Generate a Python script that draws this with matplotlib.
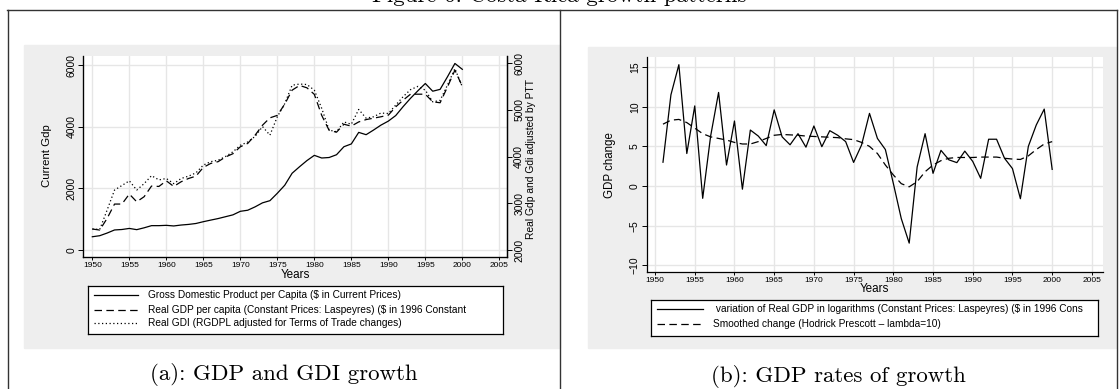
import numpy as np
import matplotlib
matplotlib.use("Agg")
import matplotlib.pyplot as plt
from matplotlib.patches import Rectangle
from matplotlib.lines import Line2D

plt.rcParams['font.family'] = ['Liberation Sans', 'DejaVu Sans']

# panel (a): levels, 1950-2000
years_a = list(range(1950, 2001))
current_gdp = [430, 464, 550, 650, 665, 700, 660, 720, 790, 790,
               800, 780, 810, 830, 860, 918, 970, 1020, 1080, 1140,
               1255, 1290, 1400, 1530, 1600, 1840, 2100, 2490, 2700, 2900,
               3070, 2984, 3000, 3090, 3350, 3440, 3815, 3740, 3890, 4050,
               4180, 4360, 4650, 4920, 5165, 5400, 5150, 5210, 5620, 6050,
               5860]
real_gdp = [2449, 2427, 2677, 2983, 2983, 3197, 3032, 3140, 3368, 3360,
            3480, 3360, 3460, 3530, 3580, 3767, 3852, 3890, 3990, 4060,
            4208, 4280, 4457, 4670, 4827, 4880, 5120, 5419, 5520, 5470,
            5330, 4880, 4560, 4520, 4690, 4650, 4740, 4790, 4820, 4850,
            4885, 5062, 5205, 5333, 5333, 5333, 5170, 5150, 5490, 5846,
            5500]
real_gdi = [2450, 2440, 2855, 3282, 3380, 3480, 3282, 3420, 3590, 3500,
            3530, 3420, 3530, 3580, 3650, 3816, 3890, 3920, 4000, 4100,
            4240, 4310, 4430, 4640, 4457, 4850, 5130, 5525, 5550, 5540,
            5420, 5030, 4565, 4530, 4740, 4690, 5007, 4820, 4850, 4930,
            4920, 5100, 5280, 5430, 5500, 5420, 5170, 5200, 5530, 5880,
            5490]

# panel (b): growth rates, 1951-2000
years_b = list(range(1951, 2001))
gdp_change = [3.0, 11.5, 15.3, 4.1, 10.1, -1.55, 6.3, 11.8, 2.65, 8.2,
              -0.4, 7.06, 6.3, 5.1, 9.6, 6.2, 5.2, 6.6, 4.9, 7.57,
              4.96, 6.98, 6.4, 5.6, 2.98, 5.17, 9.16, 6.0, 4.6, 0.34,
              -4.1, -7.2, 2.4, 6.6, 1.6, 4.5, 3.3, 2.95, 4.4, 3.1,
              0.97, 5.9, 5.9, 3.5, 2.2, -1.6, 5.0, 7.7, 9.7, 2.1]
hp_smooth = [7.8, 8.3, 8.4, 8.0, 7.3, 6.6, 6.2, 6.0, 5.8, 5.5,
             5.3, 5.3, 5.6, 6.0, 6.4, 6.5, 6.45, 6.4, 6.3, 6.25,
             6.2, 6.15, 6.1, 5.95, 5.85, 5.5, 5.0, 4.1, 2.65, 1.4,
             0.3, -0.1, 0.55, 1.8, 2.65, 3.2, 3.5, 3.6, 3.6, 3.6,
             3.65, 3.65, 3.65, 3.5, 3.4, 3.35, 3.8, 4.6, 5.3, 5.6]

xticks = list(range(1950, 2006, 5))
legend_a = ["Gross Domestic Product per Capita (\\$ in Current Prices)",
            "Real GDP per capita (Constant Prices: Laspeyres) (\\$ in 1996 Constant",
            "Real GDI (RGDPL adjusted for Terms of Trade changes)"]
legend_b = [" variation of Real GDP in logarithms (Constant Prices: Laspeyres) (\\$ in 1996 Cons",
            "Smoothed change (Hodrick Prescott \u2013 lambda=10)"]

W, H = 1119, 389
BG = '#eeeeee'
GRID = '#e6e6e6'
DASH = (0, (6, 3.5))
DOT = (0, (1, 2))


def box(x0, y0, x1, y1):
    # pixel box -> figure coords
    return [x0 / W, 1 - y1 / H, (x1 - x0) / W, (y1 - y0) / H]


def fx(x):
    return x / W


def fy(y):
    return 1 - y / H


fig = plt.figure(figsize=(W / 100, H / 100), dpi=100)

# gray graph regions (behind the axes)
fig.patches.append(Rectangle((fx(24), fy(348)), (560 - 24) / W, (348 - 45) / H,
                             transform=fig.transFigure, color=BG, zorder=-5))
fig.patches.append(Rectangle((fx(587.5), fy(348)), (1116 - 587.5) / W, (348 - 47) / H,
                             transform=fig.transFigure, color=BG, zorder=-5))

# panel frame lines
for xs, ys in [([7, 1117], [9.5, 9.5]), ([7.5, 7.5], [9.5, 389]),
               ([560, 560], [9.5, 389]), ([1116.5, 1116.5], [9.5, 389])]:
    fig.add_artist(Line2D([fx(x) for x in xs], [fy(y) for y in ys],
                          color='#333333', lw=1.0, zorder=-4))


def style_axis(ax, right=False):
    ax.set_facecolor('white')
    ax.grid(True, color=GRID, lw=1.0)
    ax.set_axisbelow(True)
    ax.spines['top'].set_visible(False)
    if not right:
        ax.spines['right'].set_visible(False)
    for s in ax.spines.values():
        s.set_linewidth(0.9)
    ax.set_xticks(xticks)
    ax.tick_params(axis='x', labelsize=6, length=2.5, width=0.7, pad=1)
    ax.tick_params(axis='y', labelsize=7.5, length=3.5, width=0.7, pad=1.5,
                   labelrotation=90)
    for lab in ax.get_yticklabels():
        lab.set_va('center')


# ---- panel (a)
ax1 = fig.add_axes(box(83.3, 56, 507.3, 256.7))
ax1.plot(years_a, current_gdp, color='black', lw=0.9)
ax1.set_xlim(1948.78, 2006.08)
ax1.set_ylim(-217, 6292)
ax1.set_yticks([0, 2000, 4000, 6000])
style_axis(ax1, right=True)

ax1r = ax1.twinx()
ax1r.plot(years_a, real_gdp, color='black', lw=0.9, linestyle=DASH)
ax1r.plot(years_a, real_gdi, color='black', lw=0.9, linestyle=DOT)
ax1r.set_ylim(1857, 6150)
ax1r.set_yticks([2000, 3000, 4000, 5000, 6000])
ax1r.spines['top'].set_visible(False)
ax1r.spines['right'].set_linewidth(0.9)
ax1r.tick_params(axis='y', labelsize=7.5, length=3.5, width=0.7, pad=1.5,
                 labelrotation=90)
for lab in ax1r.get_yticklabels():
    lab.set_va('center')

fig.text(fx(46.5), fy(156), "Current Gdp", rotation=90, ha='center', va='center', fontsize=8.2)
fig.text(fx(531), fy(159), "Real Gdp and Gdi adjusted by PTT", rotation=90,
         ha='center', va='center', fontsize=7.4)
fig.text(fx(295.3), fy(274.5), "Years", ha='center', va='center', fontsize=8.4)

# ---- panel (b)
ax2 = fig.add_axes(box(646.7, 57, 1103, 272.3))
ax2.plot(years_b, gdp_change, color='black', lw=0.9)
ax2.plot(years_b, hp_smooth, color='black', lw=0.9, linestyle=DASH)
ax2.set_xlim(1948.95, 2006.4)
ax2.set_ylim(-10.88, 16.27)
ax2.set_yticks([-10, -5, 0, 5, 10, 15])
style_axis(ax2)

fig.text(fx(610), fy(165), "GDP change", rotation=90, ha='center', va='center', fontsize=8.3)
fig.text(fx(874.8), fy(289.5), "Years", ha='center', va='center', fontsize=8.4)


# ---- legends drawn as small framed axes
def legend_box(x0, y0, x1, y1, styles, labels, rows, hx, tx):
    lax = fig.add_axes(box(x0, y0, x1, y1))
    w, h = x1 - x0, y1 - y0
    lax.set_xlim(0, w)
    lax.set_ylim(h, 0)
    lax.set_xticks([])
    lax.set_yticks([])
    for s in lax.spines.values():
        s.set_linewidth(0.9)
    for ls, lab, r, t in zip(styles, labels, rows, tx):
        lax.plot(hx, [r, r], color='black', lw=0.9, linestyle=ls)
        lax.text(t, r, lab, va='center', ha='left', fontsize=7.3, clip_on=True)


legend_box(87.7, 285.7, 503, 334.3, ['-', DASH, DOT], legend_a,
           [9.3, 24.3, 37.6], [6.3, 50.3], [60, 60, 60])
legend_box(651, 300, 1098, 336, ['-', DASH], legend_b,
           [9, 24], [6, 52], [62, 62])

# captions and (cut off) figure title
fig.text(fx(283.7), fy(375), "(a): GDP and GDI growth", ha='center', va='center',
         fontsize=16.5, fontfamily='cmr10')
fig.text(fx(838), fy(376), "(b): GDP rates of growth", ha='center', va='center',
         fontsize=16.5, fontfamily='cmr10')
fig.text(0.5, fy(1.5), "Figure 6: Costa Rica growth patterns", ha='center', va='baseline',
         fontsize=16.5, fontfamily='cmr10')

fig.savefig("out.png", dpi=100)
